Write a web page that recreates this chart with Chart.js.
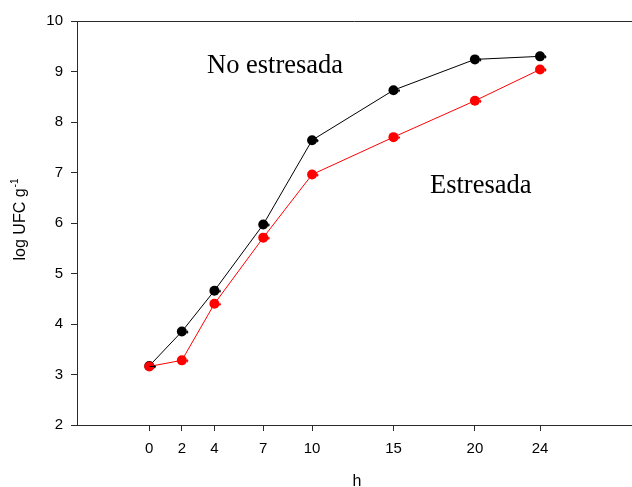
<!DOCTYPE html>
<html>
<head>
<meta charset="utf-8">
<script src="https://cdn.jsdelivr.net/npm/chart.js@4/dist/chart.umd.min.js"></script>
<style>
  html, body { margin: 0; padding: 0; background: #fff; overflow: hidden; }
  #wrap { position: relative; width: 632px; height: 487px; }
</style>
</head>
<body>
<div id="wrap"><canvas id="c" width="632" height="487"></canvas></div>
<script>
// Sampling times (h)
const hours = [0, 2, 4, 7, 10, 15, 20, 24];
// log UFC g-1 for each condition
const noEstresada = [3.17, 3.85, 4.66, 5.97, 7.64, 8.63, 9.24, 9.30];
const estresada   = [3.16, 3.28, 4.40, 5.71, 6.96, 7.70, 8.42, 9.04];
// Axis ticks
const xTicks = [0, 2, 4, 7, 10, 15, 20, 24];
const yTicks = [2, 3, 4, 5, 6, 7, 8, 9, 10];

const AXIS = '#2a2a2a';

const toXY = (xs, ys) => xs.map((x, i) => ({ x: x, y: ys[i] }));

// Text drawn directly on the canvas: axis titles and curve labels
const decorations = {
  id: 'decorations',
  afterDraw(chart) {
    const ctx = chart.ctx;
    const area = chart.chartArea;
    ctx.save();
    // top frame line
    ctx.strokeStyle = AXIS;
    ctx.lineWidth = 1;
    ctx.beginPath();
    ctx.moveTo(area.left, area.top + 0.5);
    ctx.lineTo(chart.width, area.top + 0.5);
    ctx.stroke();

    ctx.fillStyle = '#000';
    // x title
    ctx.font = '16px "Liberation Sans", Arial, sans-serif';
    ctx.textAlign = 'center';
    ctx.textBaseline = 'alphabetic';
    ctx.fillText('h', 357, 486);

    // y title with superscript
    ctx.translate(25, 220);
    ctx.rotate(-Math.PI / 2);
    const main = 'log UFC g';
    const sup = '-1';
    ctx.font = '16px "Liberation Sans", Arial, sans-serif';
    const wMain = ctx.measureText(main).width;
    ctx.font = '10px "Liberation Sans", Arial, sans-serif';
    const wSup = ctx.measureText(sup).width;
    const start = -(wMain + wSup) / 2;
    ctx.textAlign = 'left';
    ctx.font = '16px "Liberation Sans", Arial, sans-serif';
    ctx.fillText(main, start, 0);
    ctx.font = '10px "Liberation Sans", Arial, sans-serif';
    ctx.fillText(sup, start + wMain + 1, -7);
    ctx.setTransform(1, 0, 0, 1, 0, 0);

    // curve labels
    ctx.font = '26.5px "Liberation Serif", "Times New Roman", serif';
    ctx.textAlign = 'left';
    ctx.fillText('No estresada', 207, 73);
    ctx.fillText('Estresada', 430, 193);
    ctx.restore();
  }
};

// small error-bar caps beside each marker
const caps = {
  id: 'caps',
  afterDatasetsDraw(chart) {
    const ctx = chart.ctx;
    ctx.save();
    chart.data.datasets.forEach((ds, di) => {
      const meta = chart.getDatasetMeta(di);
      ctx.strokeStyle = ds.borderColor;
      ctx.lineWidth = 1;
      meta.data.forEach(pt => {
        ctx.beginPath();
        ctx.moveTo(pt.x, pt.y + 0.5);
        ctx.lineTo(pt.x + 6.5, pt.y + 0.5);
        ctx.moveTo(pt.x + 5.5, pt.y - 1);
        ctx.lineTo(pt.x + 5.5, pt.y + 2);
        ctx.stroke();
      });
    });
    ctx.restore();
  }
};

new Chart(document.getElementById('c'), {
  type: 'scatter',
  data: {
    datasets: [
      {
        label: 'Estresada',
        data: toXY(hours, estresada),
        showLine: true,
        borderColor: '#ff0000',
        backgroundColor: '#ff0000',
        borderWidth: 1,
        pointRadius: 5,
        pointBorderWidth: 0,
        pointHoverRadius: 5
      },
      {
        label: 'No estresada',
        data: toXY(hours, noEstresada),
        showLine: true,
        borderColor: '#000000',
        backgroundColor: '#000000',
        borderWidth: 1,
        pointRadius: 5,
        pointBorderWidth: 0,
        pointHoverRadius: 5
      }
    ]
  },
  options: {
    responsive: false,
    animation: false,
    events: [],
    layout: { autoPadding: false, padding: { top: 21, left: 0, right: 0, bottom: 0 } },
    plugins: { legend: { display: false }, tooltip: { enabled: false } },
    scales: {
      x: {
        type: 'linear',
        min: -4.44,
        max: 29.65,
        afterBuildTicks: s => { s.ticks = xTicks.map(v => ({ value: v })); },
        afterFit: s => { s.height = 62; s.paddingLeft = 0; s.paddingRight = 0; },
        grid: { display: true, drawOnChartArea: false, drawTicks: true, tickLength: 6, color: AXIS },
        border: { display: true, color: AXIS, width: 1 },
        ticks: {
          color: '#000',
          padding: 9,
          maxRotation: 0,
          autoSkip: false,
          font: { family: '"Liberation Sans", Arial, sans-serif', size: 15 }
        }
      },
      y: {
        type: 'linear',
        min: 2,
        max: 10,
        afterBuildTicks: s => { s.ticks = yTicks.map(v => ({ value: v })); },
        afterFit: s => { s.width = 77; s.paddingTop = 0; s.paddingBottom = 0; },
        grid: { display: true, drawOnChartArea: false, drawTicks: true, tickLength: 6, color: AXIS },
        border: { display: true, color: AXIS, width: 1 },
        ticks: {
          color: '#000',
          padding: 8,
          font: { family: '"Liberation Sans", Arial, sans-serif', size: 15 }
        }
      }
    }
  },
  plugins: [caps, decorations]
});
</script>
</body>
</html>
